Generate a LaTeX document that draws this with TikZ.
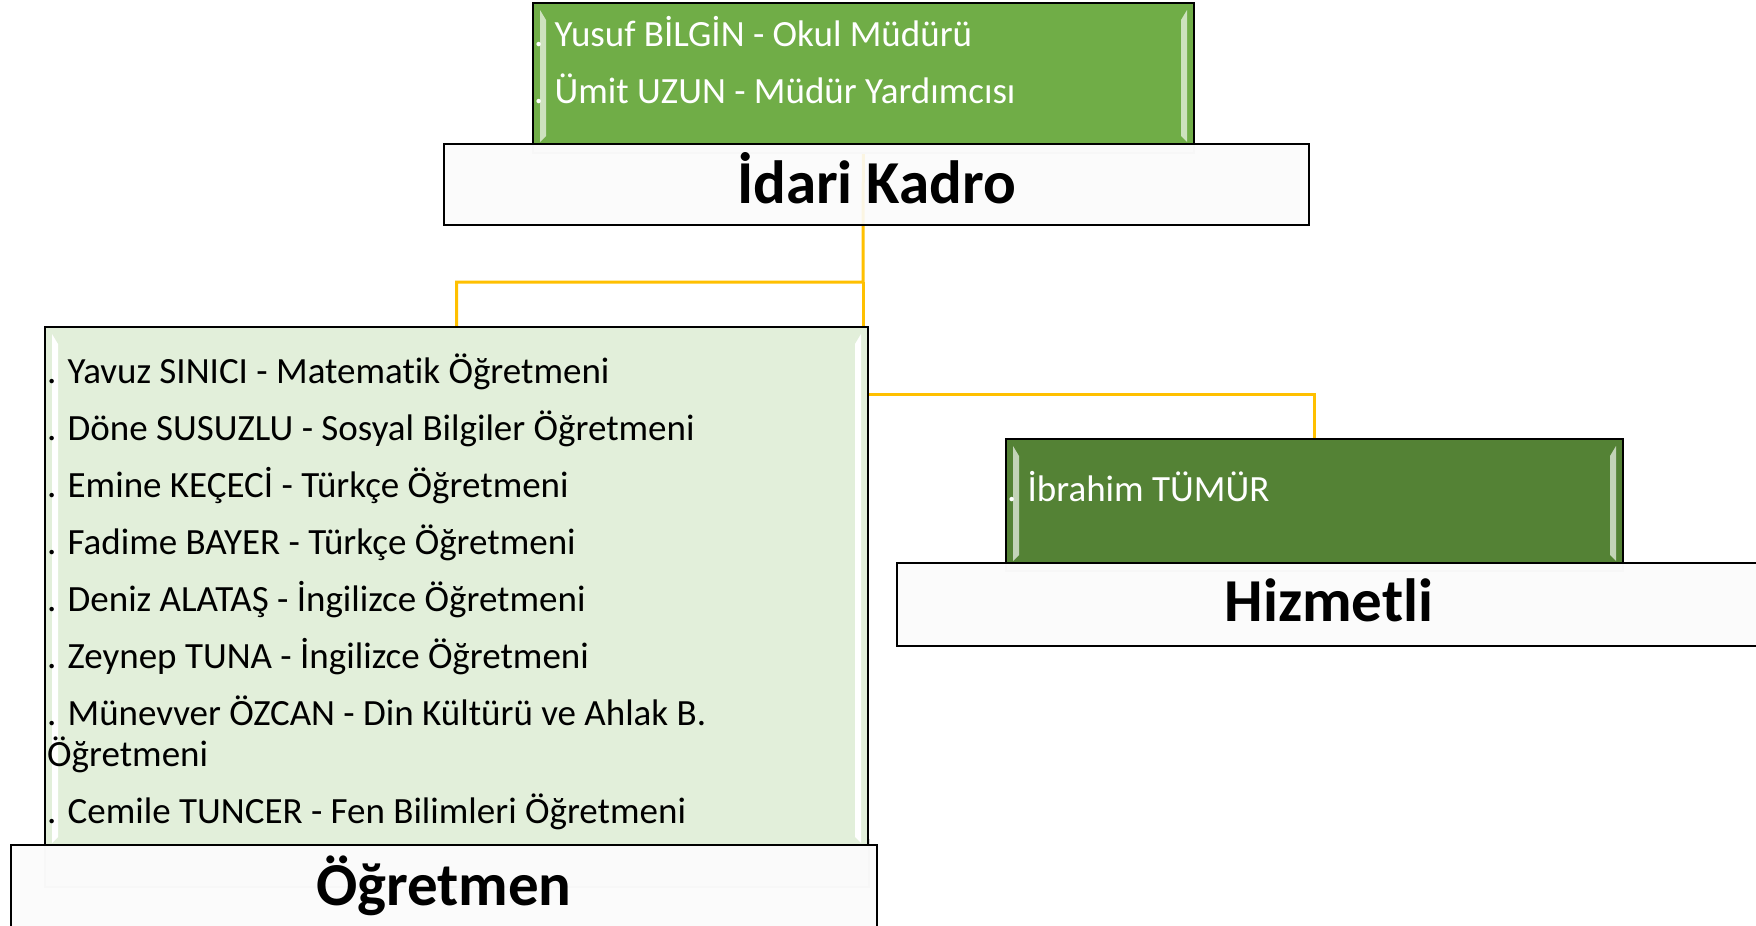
\documentclass[tikz,border=0pt]{standalone}
\usepackage{fontspec}
\setmainfont{Carlito}[RawFeature=-liga]
\usetikzlibrary{calc,backgrounds}
\definecolor{gA}{HTML}{70AD47}
\definecolor{gB}{HTML}{548235}
\definecolor{gC}{HTML}{E2EFDA}
\definecolor{connc}{HTML}{FFC000}
\tikzset{
 box/.style={draw=black, line width=1.8pt, rectangle, inner sep=0pt, outer sep=0pt, anchor=north west},
 labelbox/.style={box, fill=white!98.5!black, fill opacity=0.9, draw opacity=1},
 ghost/.style={draw=black!14, line width=1.2pt, fill=black!5, rectangle, inner sep=0pt, outer sep=0pt, anchor=north west},
 connector/.style={draw=connc, line width=3pt},
 item/.style={anchor=base west, inner sep=0pt, font=\fontsize{37}{43}\selectfont},
 head/.style={anchor=base, inner sep=0pt, font=\fontsize{61}{65}\selectfont\bfseries},
}
\newcommand{\mybevels}[2]{%
 \fill[#2] ($(#1.north west)+(7,7)$) -- ($(#1.north west)+(13,17)$) -- ($(#1.south west)+(13,-8)$) -- ($(#1.south west)+(7,-2)$) -- cycle;
 \fill[#2] ($(#1.north east)+(-7,7)$) -- ($(#1.north east)+(-13,17)$) -- ($(#1.south east)+(-13,-8)$) -- ($(#1.south east)+(-7,-2)$) -- cycle;
}
\begin{document}
\begin{tikzpicture}[x=1pt,y=-1pt]
\useasboundingbox (0,0) rectangle (1756,926);
% --- Idari Kadro ---
\node[ghost, minimum width=661pt, minimum height=14pt] (gtopghost) at (533,139) {};
\node[box, fill=gA, minimum width=661pt, minimum height=141pt] (gtop) at (533,3) {};
\mybevels{gtop}{gA!35!white}
\node[item, text=white] (y1) at (534,46) {. Yusuf BİLGİN - Okul Müdürü};
\node[item, text=white] (y2) at (534,103) {. Ümit UZUN - Müdür Yardımcısı};
% --- Ogretmen ---
\node[ghost, minimum width=824pt, minimum height=47pt] (teachghost) at (45,840) {};
\node[box, fill=gC, minimum width=823pt, minimum height=518pt] (teach) at (45,327) {};
\mybevels{teach}{white}
\node[item] (t1) at (47,383) {. Yavuz SINICI - Matematik Öğretmeni};
\node[item] (t2) at (47,440) {. Döne SUSUZLU - Sosyal Bilgiler Öğretmeni};
\node[item] (t3) at (47,497) {. Emine KEÇECİ - Türkçe Öğretmeni};
\node[item] (t4) at (47,554) {. Fadime BAYER - Türkçe Öğretmeni};
\node[item] (t5) at (47,611) {. Deniz ALATAŞ - İngilizce Öğretmeni};
\node[item] (t6) at (47,668) {. Zeynep TUNA - İngilizce Öğretmeni};
\node[item] (t7) at (47,725) {. Münevver ÖZCAN - Din Kültürü ve Ahlak B.};
\node[item] (t7b) at (47,766) {Öğretmeni};
\node[item] (t8) at (47,823) {. Cemile TUNCER - Fen Bilimleri Öğretmeni};
% --- Hizmetli ---
\node[ghost, minimum width=617pt, minimum height=12pt] (hghost) at (1006,559) {};
\node[box, fill=gB, minimum width=617pt, minimum height=124pt] (hgreen) at (1006,439) {};
\mybevels{hgreen}{gB!35!white}
\node[item, text=white] (h1) at (1007,501) {. İbrahim TÜMÜR};
% --- connectors ---
\coordinate (j1) at (863,282);
\coordinate (j2) at (863,394);
\begin{scope}[on background layer]
\fill[white] (0,0) rectangle (1756,926);
\draw[connector] (gtop.center) -- (j1) -| (teach.north);
\draw[connector] (j1) -- (j2) -| (hgreen.north);
\end{scope}
% --- label boxes ---
\node[labelbox, minimum width=865pt, minimum height=81pt] (lidari) at (444,144) {};
\node[head] (hidari) at (876.5,203) {İdari Kadro};
\node[labelbox, minimum width=866pt, minimum height=82pt] (logr) at (11,845) {};
\node[head] (hogr) at (444,905) {Öğretmen};
\node[labelbox, minimum width=866pt, minimum height=83pt] (lhiz) at (897,563) {};
\node[head] (hhiz) at (1329,621) {Hizmetli};
\end{tikzpicture}
\end{document}
